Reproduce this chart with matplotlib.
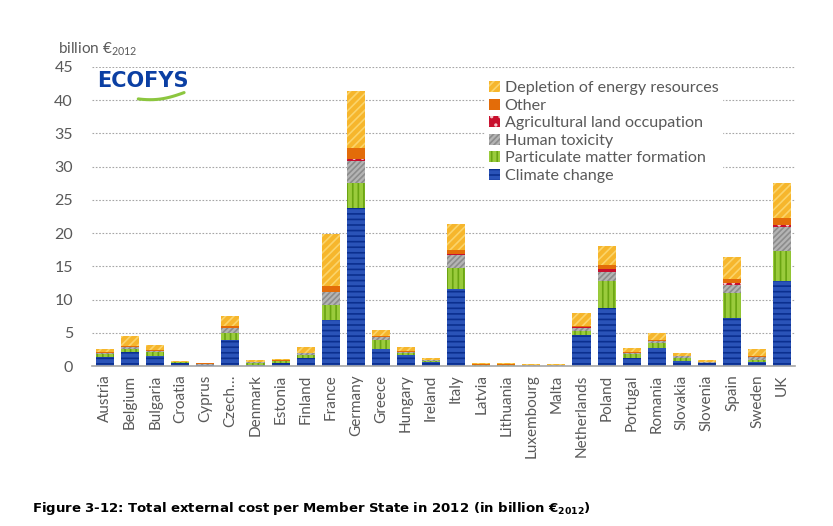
import numpy as np
import matplotlib
matplotlib.use("Agg")
import matplotlib.pyplot as plt
from matplotlib.patches import Patch

# values, billion EUR 2012
countries = ["Austria", "Belgium", "Bulgaria", "Croatia", "Cyprus", "Czech\u2026",
             "Denmark", "Estonia", "Finland", "France", "Germany", "Greece",
             "Hungary", "Ireland", "Italy", "Latvia", "Lithuania", "Luxembourg",
             "Malta", "Netherlands", "Poland", "Portugal", "Romania", "Slovakia",
             "Slovenia", "Spain", "Sweden", "UK"]

climate = [1.40, 2.15, 1.55, 0.45, 0.10, 3.90, 0.15, 0.50, 1.25, 6.90, 23.70, 2.60,
           1.60, 0.65, 11.60, 0.05, 0.05, 0.05, 0.05, 4.70, 8.70, 1.20, 2.65, 0.80,
           0.40, 7.30, 0.65, 12.85]
particulate = [0.35, 0.35, 0.50, 0.10, 0.10, 1.10, 0.30, 0.20, 0.35, 2.30, 3.90, 1.30,
               0.35, 0.15, 3.20, 0.05, 0.05, 0.03, 0.03, 0.60, 4.15, 0.55, 0.75, 0.40,
               0.10, 3.75, 0.25, 4.50]
toxicity = [0.25, 0.40, 0.20, 0.05, 0.15, 0.70, 0.10, 0.10, 0.30, 1.90, 3.20, 0.50,
            0.15, 0.10, 1.90, 0.10, 0.10, 0.07, 0.07, 0.50, 1.30, 0.15, 0.35, 0.25,
            0.10, 1.15, 0.40, 3.55]
agricultural = [0.02, 0.03, 0.02, 0.01, 0.01, 0.05, 0.01, 0.01, 0.02, 0.05, 0.40, 0.02,
                0.02, 0.01, 0.10, 0.01, 0.01, 0.00, 0.00, 0.03, 0.50, 0.02, 0.03, 0.01,
                0.01, 0.25, 0.02, 0.30]
other = [0.08, 0.15, 0.15, 0.05, 0.05, 0.30, 0.10, 0.05, 0.10, 0.95, 1.60, 0.10,
         0.10, 0.05, 0.70, 0.10, 0.10, 0.08, 0.08, 0.25, 0.55, 0.15, 0.20, 0.10,
         0.05, 0.70, 0.25, 1.00]
depletion = [0.45, 1.45, 0.75, 0.10, 0.10, 1.50, 0.20, 0.20, 0.80, 7.70, 8.60, 0.90,
             0.70, 0.30, 3.90, 0.15, 0.15, 0.07, 0.07, 1.85, 2.90, 0.60, 1.05, 0.40,
             0.20, 3.25, 1.00, 5.30]

series = [
    ("Climate change", climate, "#2a53b8", "#0b2f8f", "---"),
    ("Particulate matter formation", particulate, "#9acb3c", "#6aa412", "|||"),
    ("Human toxicity", toxicity, "#b4b4b4", "#8c8c8c", "//////"),
    ("Agricultural land occupation", agricultural, "#c8102e", "#f4c8cf", ".."),
    ("Other", other, "#e36c09", "#e36c09", None),
    ("Depletion of energy resources", depletion, "#f6b62c", "#fbd46a", "////"),
]

plt.rcParams["font.family"] = ["Lato", "DejaVu Sans"]
plt.rcParams["mathtext.fontset"] = "custom"
plt.rcParams["mathtext.rm"] = "Lato"
plt.rcParams["mathtext.bf"] = "DejaVu Sans:bold"
plt.rcParams["hatch.linewidth"] = 1.2

grey_txt = "#595959"

fig = plt.figure(figsize=(8.33, 5.26), dpi=100)
ax = fig.add_axes([0.111, 0.304, 0.843, 0.569])

x = np.arange(len(countries))
bottom = np.zeros(len(countries))
handles = []
for name, vals, face, hcol, hatch in series:
    vals = np.array(vals)
    ax.bar(x, vals, 0.72, bottom=bottom, color=face, edgecolor=hcol,
           hatch=hatch, linewidth=0, zorder=3)
    bottom += vals
    handles.append(Patch(facecolor=face, edgecolor=hcol, hatch=hatch, linewidth=0))

ax.set_xlim(-0.5, len(countries) - 0.5)
ax.set_ylim(0, 45)
ax.set_yticks(np.arange(0, 46, 5))
ax.yaxis.grid(True, linestyle=(0, (1.5, 1.5)), color="#a6a6a6", linewidth=0.8, zorder=0)
ax.set_xticks(x)
ax.set_xticklabels(countries, rotation=90, fontsize=11, color=grey_txt)
ax.tick_params(axis="y", labelsize=11.5, labelcolor=grey_txt, length=0, pad=14)
ax.tick_params(axis="x", length=0, pad=6)
for s in ["left", "right", "top"]:
    ax.spines[s].set_visible(False)
ax.spines["bottom"].set_color("#a6a6a6")
ax.spines["bottom"].set_linewidth(1.2)
ax.spines["bottom"].set_zorder(4)

leg = ax.legend(handles[::-1], [s[0] for s in series][::-1],
                loc="upper left", bbox_to_anchor=(0.548, 0.99),
                fontsize=11.6, frameon=True, handlelength=0.7, handleheight=0.7,
                handletextpad=0.3, labelspacing=0.2, borderpad=0.2)
leg.get_frame().set_edgecolor("white")
leg.get_frame().set_facecolor("white")
leg.get_frame().set_alpha(1)
for t in leg.get_texts():
    t.set_color(grey_txt)

fig.text(0.07, 0.898, "billion \u20ac$_{2012}$", fontsize=11, color=grey_txt)

# logo
fig.text(0.117, 0.835, "ECOFYS", fontsize=15, color="#0b3fa3", fontweight="bold",
         family="DejaVu Sans", bbox=dict(facecolor="white", edgecolor="none", pad=2),
         zorder=5)
t = np.linspace(0, 1, 30)
fig.add_artist(plt.Line2D(0.166 + 0.055 * t, 0.812 + 0.012 * t ** 1.6 - 0.004 * np.sin(np.pi * t),
                          color="#8cc63f", linewidth=2.2, solid_capstyle="round", zorder=6))

fig.text(0.038, 0.027, "Figure 3-12: Total external cost per Member State in 2012 "
         "(in billion \u20ac$_{\\mathbf{2012}}$)", fontsize=9.5, fontweight="bold",
         family="DejaVu Sans", color="black")

fig.savefig("out.png", dpi=100)
